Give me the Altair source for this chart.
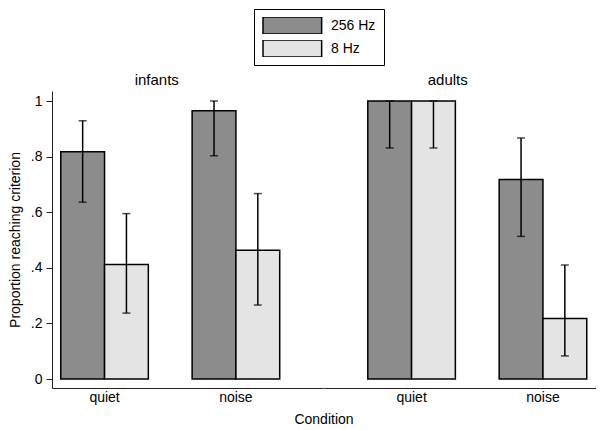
import altair as alt
import pandas as pd

groups = ["infants", "infants", "infants", "infants", "adults", "adults", "adults", "adults"]
conditions = ["quiet", "quiet", "noise", "noise", "quiet", "quiet", "noise", "noise"]
freqs = ["256 Hz", "8 Hz", "256 Hz", "8 Hz", "256 Hz", "8 Hz", "256 Hz", "8 Hz"]
proportion = [0.817, 0.412, 0.965, 0.463, 1.0, 1.0, 0.718, 0.218]
ci_low = [0.636, 0.237, 0.803, 0.266, 0.831, 0.831, 0.513, 0.083]
ci_high = [0.929, 0.595, 1.0, 0.667, 1.0, 1.0, 0.867, 0.410]

cond_order = ["quiet", "noise"]
freq_order = ["256 Hz", "8 Hz"]
freq_colors = ["#8c8c8c", "#e4e4e4"]
y_ticks = [0, 0.2, 0.4, 0.6, 0.8, 1.0]

df = pd.DataFrame({
    "group": groups, "condition": conditions, "freq": freqs,
    "prop": proportion, "lo": ci_low, "hi": ci_high,
})

PW = 271.5
PH = 297
YDOM = [-9 / 278, 1 + 10 / 278]
AX = "#222222"


def panel(gname, align, left, title_dx):
    base = alt.Chart(df).transform_filter(alt.datum.group == gname)
    xaxis = alt.Axis(
        title="Condition" if left else None,
        titleX=PW if left else 0,
        labelAngle=0, ticks=False, tickSize=0, labelPadding=2, grid=False,
        domainColor=AX, domainWidth=1, titlePadding=8,
    )
    x = alt.X("condition:N", sort=cond_order,
              scale=alt.Scale(paddingInner=1 / 3, paddingOuter=0.2, align=align),
              axis=xaxis)
    xo = alt.XOffset("freq:N", sort=freq_order,
                     scale=alt.Scale(domain=freq_order, paddingInner=0, paddingOuter=0))
    if left:
        yaxis = alt.Axis(
            values=y_ticks,
            labelExpr="datum.value == 0 ? '0' : datum.value == 1 ? '1' : '.' + format(datum.value * 10, 'd')",
            title="Proportion reaching criterion", grid=False, tickSize=6,
            labelPadding=4, titlePadding=8, domain=True, domainColor=AX, tickColor=AX,
        )
    else:
        yaxis = None
    yscale = alt.Scale(domain=YDOM, nice=False, zero=False)
    bars = base.mark_bar(stroke="black", strokeWidth=1.5).encode(
        x=x, xOffset=xo,
        y=alt.Y("prop:Q", scale=yscale, axis=yaxis),
        y2=alt.datum(0),
        color=alt.Color(
            "freq:N", sort=freq_order,
            scale=alt.Scale(domain=freq_order, range=freq_colors),
            legend=alt.Legend(
                orient="none", legendX=202, legendY=-82, title=None,
                direction="vertical",
                symbolType="M-1,-1H5.9V1H-1Z", symbolSize=289,
                symbolStrokeColor="black", symbolStrokeWidth=1.5,
                labelOffset=50, labelFontSize=14, rowPadding=6, clipHeight=17,
                strokeColor="black", padding=8, fillColor="white",
            ),
        ),
    )
    rules = base.mark_rule(color="black", strokeWidth=1.5).encode(
        x=x, xOffset=xo,
        y=alt.Y("lo:Q", scale=yscale, axis=yaxis),
        y2="hi:Q",
    )
    cap_lo = base.mark_tick(color="black", thickness=1.5, size=8).encode(
        x=x, xOffset=xo, y=alt.Y("lo:Q", scale=yscale, axis=yaxis))
    cap_hi = base.mark_tick(color="black", thickness=1.5, size=8).encode(
        x=x, xOffset=xo, y=alt.Y("hi:Q", scale=yscale, axis=yaxis))
    return alt.layer(bars, rules, cap_lo, cap_hi).properties(
        width=PW, height=PH,
        title=alt.TitleParams(gname, dx=title_dx, dy=14, fontSize=15, fontWeight="normal",
                              anchor="middle", baseline="alphabetic", offset=5,
                              frame="group"),
    )


chart = alt.hconcat(
    panel("infants", 1 / 6, True, -31),
    panel("adults", 5 / 6, False, -12),
    spacing=0, bounds="flush",
).properties(
    padding={"left": 0, "top": 0, "right": 0, "bottom": 0},
).configure(
    font="Liberation Sans",
).configure_view(
    stroke=None, strokeWidth=0,
).configure_axis(
    labelFontSize=14, titleFontSize=14, labelColor="black", titleColor="black",
    titleFontWeight="normal", grid=False,
).configure_axisY(domain=False).configure_title(color="black")

chart.save("out.html", embed_options={"renderer": "svg", "actions": False})
